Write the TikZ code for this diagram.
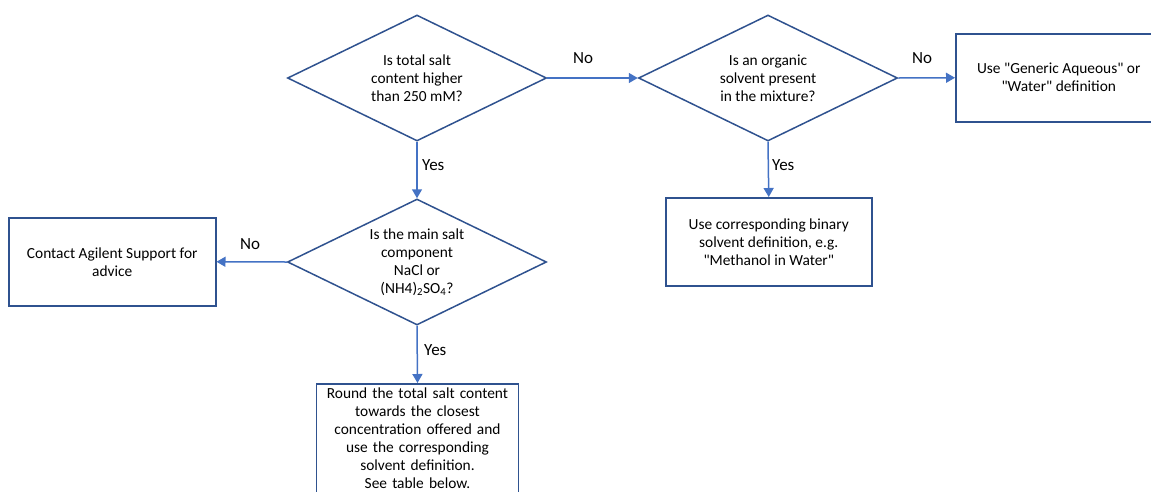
\documentclass[tikz,border=0pt]{standalone}
\usepackage{fontspec}
\setmainfont{Carlito}
\usetikzlibrary{shapes.geometric,arrows.meta}
\definecolor{outl}{HTML}{2F528F}
\definecolor{arr}{HTML}{4472C4}
\newcommand{\qd}{\textquotedbl}
\begin{document}
\begin{tikzpicture}[x=1pt,y=-1pt,
  dec/.style={diamond, draw=outl, line width=1.5pt, shape aspect=2, inner sep=0pt,
    minimum width=259pt, minimum height=126pt, align=center, font=\fontsize{15.4}{18}\selectfont},
  box/.style={rectangle, draw=outl, line width=1.5pt, align=center, anchor=north west,
    font=\fontsize{15.4}{18}\selectfont},
  arrow/.style={draw=arr, line width=1.5pt, -{Triangle[length=9pt,width=10pt]}},
  lab/.style={font=\fontsize{17}{18}\selectfont, text=black, inner sep=0pt}]
\useasboundingbox (0,0) rectangle (1151,491);
\clip (0,0) rectangle (1151,491);

\node[dec] (d1) at (417,78) {Is total salt\\content higher\\than 250 mM?};
\node[dec] (d2) at (768,78) {Is an organic\\solvent present\\in the mixture?};
\node[dec] (d3) at (417,262) {Is the main salt\\component\\NaCl or\\(NH4)\textsubscript{2}SO\textsubscript{4}?};

\node[box, minimum width=206pt, minimum height=88pt] (gen) at (955,33) {Use \qd Generic Aqueous\qd{} or\\\qd Water\qd{} definition};
\node[box, minimum width=207pt, minimum height=88pt] (con) at (8,217) {Contact Agilent Support for\\advice};
\node[box, minimum width=206pt, minimum height=88pt] (mid) at (665,197) {Use corresponding binary\\solvent definition, e.g.\\\qd Methanol in Water\qd};
\node[box, anchor=north, text width=195pt, inner ysep=4pt, align=center] (rnd) at (417.5,383) {Round the total salt content\\towards the closest\\concentration offered and\\use the corresponding\\solvent definition.\\See table below.\\\mbox{}};

\draw[arrow] (d1.east) -- (d2.west);
\draw[arrow] (d2.east) -- (gen.west);
\draw[arrow] (d1.south) -- (d3.north);
\draw[arrow] (d2.south) -- (mid.north);
\draw[arrow] (d3.west) -- (con.east);
\draw[arrow] (d3.south) -- (rnd.north);

\node[lab] (n1) at (583,58) {No};
\node[lab] (n2) at (922,58) {No};
\node[lab] (n3) at (250,244) {No};
\node[lab, anchor=west] (y1) at (422,165) {Yes};
\node[lab, anchor=west] (y2) at (772,165) {Yes};
\node[lab, anchor=west] (y3) at (424,350) {Yes};
\end{tikzpicture}
\end{document}
